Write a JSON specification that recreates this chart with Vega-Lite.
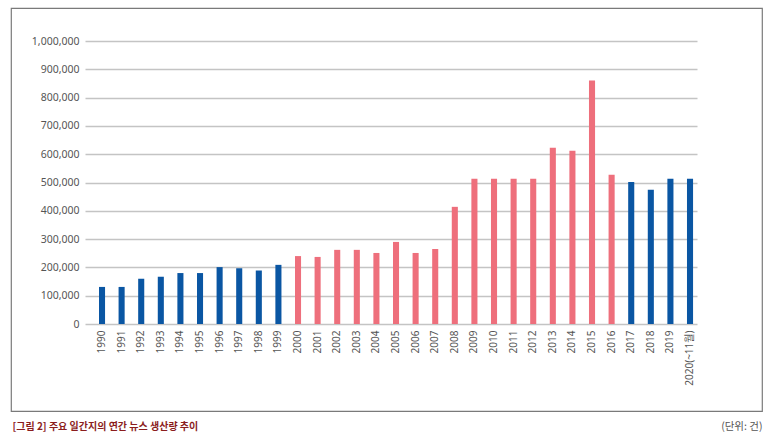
{
  "$schema": "https://vega.github.io/schema/vega-lite/v6.json",
  "description": "주요 일간지의 연간 뉴스 생산량 추이",
  "width": 751,
  "height": 403,
  "autosize": {"type": "none"},
  "padding": {"left": 11, "top": 8, "right": 10, "bottom": 26},
  "background": "white",
  "view": {"stroke": "#7a7a7a", "strokeWidth": 1.2, "fill": "white"},
  "data": {
    "values": [
      {"year": "1990", "value": 131000, "group": "blue"},
      {"year": "1991", "value": 131000, "group": "blue"},
      {"year": "1992", "value": 160000, "group": "blue"},
      {"year": "1993", "value": 167000, "group": "blue"},
      {"year": "1994", "value": 180000, "group": "blue"},
      {"year": "1995", "value": 180000, "group": "blue"},
      {"year": "1996", "value": 201000, "group": "blue"},
      {"year": "1997", "value": 197000, "group": "blue"},
      {"year": "1998", "value": 189000, "group": "blue"},
      {"year": "1999", "value": 209000, "group": "blue"},
      {"year": "2000", "value": 240000, "group": "pink"},
      {"year": "2001", "value": 237000, "group": "pink"},
      {"year": "2002", "value": 262000, "group": "pink"},
      {"year": "2003", "value": 262000, "group": "pink"},
      {"year": "2004", "value": 251000, "group": "pink"},
      {"year": "2005", "value": 290000, "group": "pink"},
      {"year": "2006", "value": 251000, "group": "pink"},
      {"year": "2007", "value": 265000, "group": "pink"},
      {"year": "2008", "value": 414000, "group": "pink"},
      {"year": "2009", "value": 513000, "group": "pink"},
      {"year": "2010", "value": 513000, "group": "pink"},
      {"year": "2011", "value": 513000, "group": "pink"},
      {"year": "2012", "value": 513000, "group": "pink"},
      {"year": "2013", "value": 623000, "group": "pink"},
      {"year": "2014", "value": 612000, "group": "pink"},
      {"year": "2015", "value": 860000, "group": "pink"},
      {"year": "2016", "value": 527000, "group": "pink"},
      {"year": "2017", "value": 502000, "group": "blue"},
      {"year": "2018", "value": 474000, "group": "blue"},
      {"year": "2019", "value": 513000, "group": "blue"},
      {"year": "2020(~11월)", "value": 513000, "group": "blue"}
    ]
  },
  "mark": "bar",
  "encoding": {
    "x": {
      "field": "year",
      "type": "ordinal",
      "sort": null,
      "scale": {"range": [74, 686], "paddingInner": 0.69, "paddingOuter": 0.457, "align": 0.78},
      "axis": {
        "orient": "bottom",
        "offset": -87,
        "labelAngle": -90,
        "labelPadding": 6,
        "labelFont": "Noto Sans, Noto Sans CJK KR",
        "labelFontSize": 10,
        "labelColor": "#555555",
        "ticks": false,
        "domain": false,
        "title": "[그림 2] 주요 일간지의 연간 뉴스 생산량 추이",
        "titleFont": "Noto Sans CJK KR",
        "titleFontSize": 10,
        "titleFontWeight": "bold",
        "titleColor": "#8b1d1d",
        "titleAnchor": "start",
        "titleAlign": "left",
        "titleBaseline": "top",
        "titleX": 1,
        "titleY": 97
      }
    },
    "y": {
      "field": "value",
      "type": "quantitative",
      "scale": {"domain": [0, 1000000], "range": [316, 33]},
      "axis": {
        "values": [0, 100000, 200000, 300000, 400000, 500000, 600000, 700000, 800000, 900000, 1000000],
        "format": ",d",
        "offset": -74,
        "labelPadding": 6,
        "labelFont": "Noto Sans",
        "labelFontSize": 10.5,
        "labelColor": "#555555",
        "ticks": false,
        "domain": false,
        "grid": true,
        "gridColor": "#c4c4c4",
        "gridWidth": 1.5,
        "title": "(단위: 건)",
        "titleFont": "Noto Sans CJK KR",
        "titleFontSize": 10.5,
        "titleFontWeight": "normal",
        "titleColor": "#555555",
        "titleAngle": 0,
        "titleAlign": "right",
        "titleBaseline": "top",
        "titleX": 677,
        "titleY": 413
      }
    },
    "color": {
      "field": "group",
      "type": "nominal",
      "scale": {"domain": ["blue", "pink"], "range": ["#0a56a3", "#ee6f7c"]},
      "legend": null
    }
  }
}
